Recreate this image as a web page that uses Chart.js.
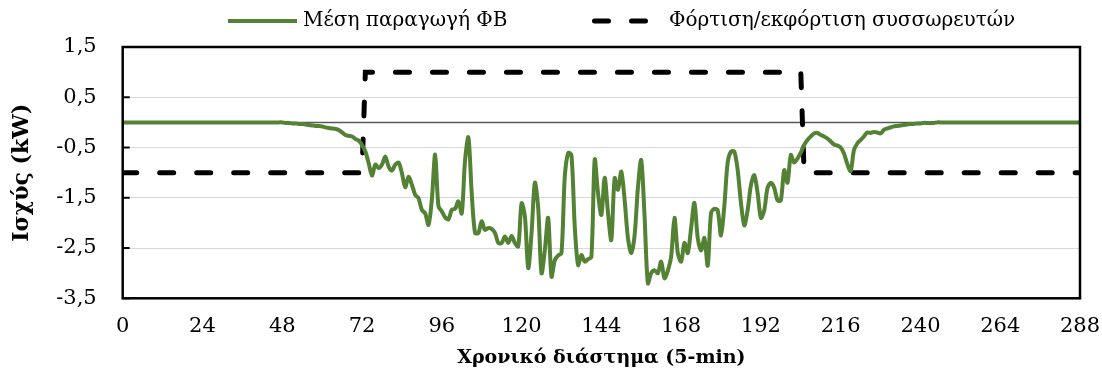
<!DOCTYPE html>
<html>
<head>
<meta charset="utf-8">
<script src="https://cdn.jsdelivr.net/npm/chart.js@4.4.1/dist/chart.umd.min.js"></script>
<style>
  html, body { margin: 0; padding: 0; background: #fff; }
  #wrap { width: 1102px; height: 376px; position: relative; }
</style>
</head>
<body>
<div id="wrap"><canvas id="powerChart"></canvas></div>
<script>
// 5-min slots of the day (0..288)
const slots = Array.from({ length: 289 }, (_, i) => i);

// Mean PV production (kW)
const pvOutput = [
  0, 0, 0, 0, 0, 0, 0, 0, 0, 0, 0, 0, 0, 0, 0, 0, 0, 0, 0, 0, 0, 0, 0, 0,
  0, 0, 0, 0, 0, 0, 0, 0, 0, 0, 0, 0, 0, 0, 0, 0, 0, 0, 0, 0, 0, 0, 0, 0,
  0, -0.01, -0.01, -0.02, -0.02, -0.03, -0.03, -0.04, -0.05, -0.06, -0.07, -0.07,
  -0.08, -0.10, -0.11, -0.12, -0.13, -0.15, -0.20, -0.25, -0.27, -0.28, -0.33, -0.36,
  -0.45, -0.58, -0.81, -1.06, -0.84, -0.91, -0.84, -0.68, -0.88, -0.96, -0.84, -0.80,
  -1.01, -1.29, -1.08, -1.24, -1.44, -1.51, -1.74, -1.81, -2.04, -1.54, -0.64, -1.67,
  -1.77, -1.89, -1.93, -1.74, -1.72, -1.57, -1.81, -0.75, -0.30, -1.41, -2.20, -2.20,
  -1.97, -2.14, -2.10, -2.12, -2.20, -2.40, -2.40, -2.27, -2.40, -2.26, -2.40, -2.47,
  -1.61, -1.87, -2.90, -2.20, -1.20, -1.70, -3.00, -2.54, -1.90, -3.07, -2.74, -2.65,
  -2.60, -1.08, -0.61, -0.65, -2.07, -2.84, -2.64, -2.77, -2.72, -2.68, -0.74, -1.41,
  -1.84, -1.10, -1.80, -2.34, -1.11, -1.34, -0.98, -1.54, -2.30, -2.60, -2.25, -1.30,
  -0.75, -1.87, -3.20, -3.00, -2.94, -3.00, -2.77, -3.10, -2.95, -2.67, -1.90, -2.60,
  -2.77, -2.40, -2.60, -2.10, -1.60, -2.30, -2.55, -2.30, -2.85, -1.80, -1.72, -1.75,
  -2.25, -1.66, -0.80, -0.58, -0.58, -0.94, -1.60, -2.05, -1.75, -1.25, -1.05, -1.40,
  -1.90, -1.75, -1.30, -1.20, -1.30, -1.55, -1.55, -0.95, -1.20, -0.65, -0.80, -0.72,
  -0.60, -0.45, -0.35, -0.28, -0.22, -0.21, -0.25, -0.28, -0.32, -0.38, -0.44, -0.46,
  -0.50, -0.62, -0.83, -0.97, -0.55, -0.42, -0.35, -0.28, -0.20, -0.21, -0.19, -0.20,
  -0.22, -0.15, -0.12, -0.10, -0.08, -0.07, -0.06, -0.05, -0.04, -0.03, -0.03, -0.02,
  -0.02, -0.01, -0.01, -0.01, -0.01, 0, 0, 0, 0, 0, 0, 0,
  0, 0, 0, 0, 0, 0, 0, 0, 0, 0, 0, 0, 0, 0, 0, 0, 0, 0, 0, 0,
  0, 0, 0, 0, 0, 0, 0, 0, 0, 0, 0, 0, 0, 0, 0, 0, 0
];

// Battery charge/discharge (kW): step points
const batteryX = [0, 72, 73, 204, 205, 288];
const batteryY = [-1, -1, 1, 1, -1, -1];

// Axis ticks
const xTicks = [0, 24, 48, 72, 96, 120, 144, 168, 192, 216, 240, 264, 288];
const yTicks = [1.5, 0.5, -0.5, -1.5, -2.5, -3.5];

const seriesNames = ['Μέση παραγωγή ΦΒ', 'Φόρτιση/εκφόρτιση συσσωρευτών'];

const FONT = "'DejaVu Serif', 'Liberation Serif', serif";
const GREEN = '#548235';

// Frame, zero line and inner tick marks like the Excel plot area
const framePlugin = {
  id: 'frame',
  beforeDatasetsDraw(chart) {
    const { ctx, chartArea: a, scales: { y } } = chart;
    const y0 = y.getPixelForValue(0);
    ctx.save();
    ctx.strokeStyle = '#595959';
    ctx.lineWidth = 1.5;
    ctx.beginPath();
    ctx.moveTo(a.left, y0);
    ctx.lineTo(a.right, y0);
    ctx.stroke();
    ctx.restore();
  },
  afterDatasetsDraw(chart) {
    const { ctx, chartArea: a, scales: { y } } = chart;
    ctx.save();
    ctx.strokeStyle = '#000';
    ctx.lineWidth = 2.5;
    ctx.strokeRect(a.left, a.top, a.right - a.left, a.bottom - a.top);
    ctx.lineWidth = 2;
    yTicks.forEach(v => {
      const py = y.getPixelForValue(v);
      ctx.beginPath();
      ctx.moveTo(a.left, py);
      ctx.lineTo(a.left + 7, py);
      ctx.stroke();
    });
    ctx.restore();
  }
};

// Legend drawn at the top, spaced like the original
const legendPlugin = {
  id: 'topLegend',
  afterDraw(chart) {
    const { ctx } = chart;
    const ly = 21;
    ctx.save();
    ctx.font = '20px ' + FONT;
    ctx.fillStyle = '#000';
    ctx.textBaseline = 'middle';
    ctx.textAlign = 'left';

    ctx.strokeStyle = GREEN;
    ctx.lineWidth = 4;
    ctx.beginPath();
    ctx.moveTo(228, ly);
    ctx.lineTo(297, ly);
    ctx.stroke();
    ctx.fillText(seriesNames[0], 303, ly);

    ctx.strokeStyle = '#000';
    ctx.lineWidth = 5;
    ctx.lineCap = 'round';
    ctx.setLineDash([14, 23]);
    ctx.beginPath();
    ctx.moveTo(594.5, ly);
    ctx.lineTo(646, ly);
    ctx.stroke();
    ctx.setLineDash([]);
    ctx.fillText(seriesNames[1], 669, ly);
    ctx.restore();
  }
};

new Chart(document.getElementById('powerChart'), {
  type: 'line',
  data: {
    datasets: [
      {
        label: seriesNames[0],
        data: pvOutput.map((v, i) => ({ x: slots[i], y: v })),
        borderColor: GREEN,
        borderWidth: 4,
        borderJoinStyle: 'round',
        pointRadius: 0,
        tension: 0.3,
        fill: false
      },
      {
        label: seriesNames[1],
        data: batteryX.map((x, i) => ({ x, y: batteryY[i] })),
        borderColor: '#000',
        borderWidth: 5,
        borderDash: [14, 23],
        borderCapStyle: 'round',
        pointRadius: 0,
        tension: 0,
        fill: false
      }
    ]
  },
  options: {
    responsive: true,
    maintainAspectRatio: false,
    animation: false,
    layout: { padding: { top: 47, right: 22, bottom: 0, left: 0 } },
    plugins: {
      legend: { display: false },
      tooltip: { enabled: false }
    },
    scales: {
      x: {
        type: 'linear',
        min: 0,
        max: 288,
        afterBuildTicks: s => { s.ticks = xTicks.map(v => ({ value: v })); },
        afterFit: s => { s.height = 77.7; s.paddingLeft = 0; s.paddingRight = 0; },
        grid: { display: false, drawTicks: false },
        border: { display: false },
        ticks: {
          padding: 16,
          color: '#000',
          autoSkip: false,
          maxRotation: 0,
          font: { family: FONT, size: 21 }
        },
        title: {
          display: true,
          text: 'Χρονικό διάστημα (5-min)',
          color: '#000',
          font: { family: FONT, size: 19, weight: 'bold' },
          padding: { top: 0, bottom: 7 }
        }
      },
      y: {
        min: -3.5,
        max: 1.5,
        afterBuildTicks: s => { s.ticks = yTicks.map(v => ({ value: v })); },
        afterFit: s => { s.width = 122.7; },
        grid: { color: '#d9d9d9', lineWidth: 1, drawTicks: false },
        border: { display: false },
        ticks: {
          padding: 26,
          color: '#000',
          font: { family: FONT, size: 21 },
          callback: v => v.toFixed(1).replace('.', ',')
        },
        title: {
          display: true,
          text: 'Ισχύς (kW)',
          color: '#000',
          font: { family: FONT, size: 22, weight: 'bold' },
          padding: { top: 9, bottom: 0 }
        }
      }
    }
  },
  plugins: [framePlugin, legendPlugin]
});
</script>
</body>
</html>
